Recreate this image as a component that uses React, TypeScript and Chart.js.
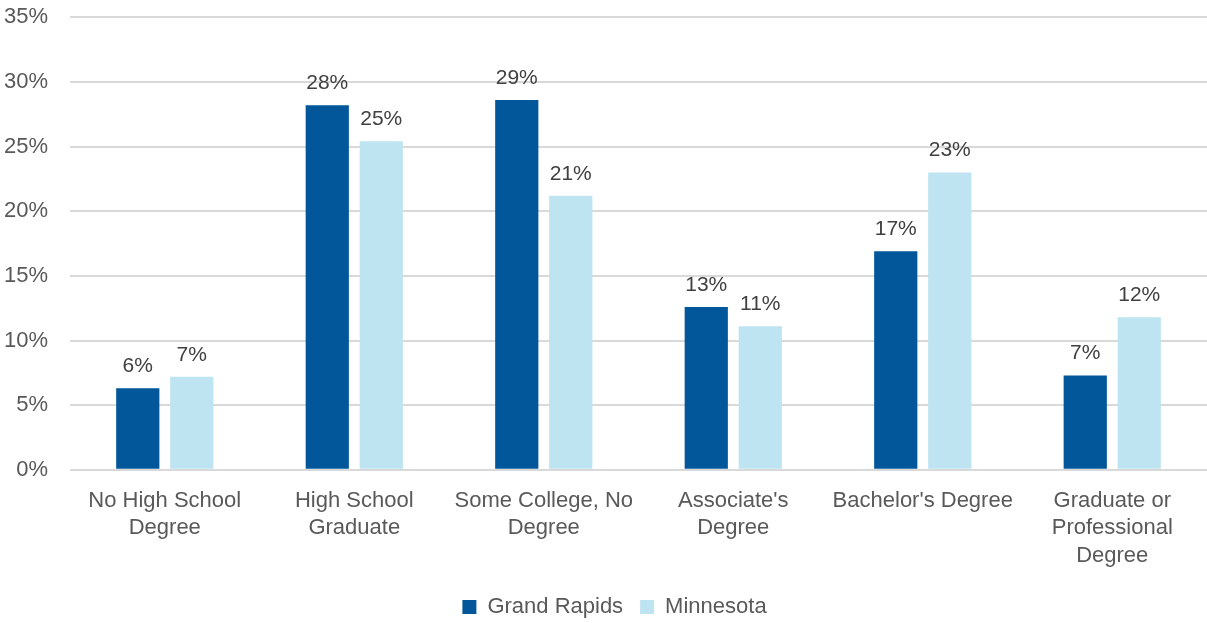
import React, { useEffect, useRef } from "react";
import { Chart, registerables } from "chart.js";

Chart.register(...registerables);

const categories: (string | string[])[] = [
  ["No High School", "Degree"],
  ["High School", "Graduate"],
  ["Some College, No", "Degree"],
  ["Associate's", "Degree"],
  "Bachelor's Degree",
  ["Graduate or", "Professional", "Degree"],
];
const grandRapids = [6.3, 28.2, 28.6, 12.6, 16.9, 7.3];
const minnesota = [7.2, 25.4, 21.2, 11.1, 23.0, 11.8];
const yTicks = [0, 5, 10, 15, 20, 25, 30, 35];

const FONT = "'Liberation Sans', Arial, sans-serif";

const dataLabels = {
  id: "dataLabels",
  afterDatasetsDraw(chart: any) {
    const ctx = chart.ctx;
    ctx.save();
    ctx.font = `21px ${FONT}`;
    ctx.fillStyle = "#404040";
    ctx.textAlign = "center";
    ctx.textBaseline = "alphabetic";
    chart.data.datasets.forEach((ds: any, i: number) => {
      const meta = chart.getDatasetMeta(i);
      meta.data.forEach((bar: any, j: number) => {
        const v = ds.data[j];
        ctx.fillText(`${Math.round(v)}%`, bar.x, bar.y - 16);
      });
    });
    ctx.restore();
  },
};

const legendShift = {
  id: "legendShift",
  afterLayout(chart: any) {
    const lg = chart.legend;
    if (lg) {
      lg.left += 20;
      lg.right += 20;
    }
  },
};

export default function App() {
  const ref = useRef<HTMLCanvasElement>(null);
  useEffect(() => {
    const chart = new Chart(ref.current!, {
      type: "bar",
      data: {
        labels: categories,
        datasets: [
          {
            label: "Grand Rapids",
            data: grandRapids,
            backgroundColor: "#02579A",
            categoryPercentage: 0.57,
            barPercentage: 0.8,
          },
          {
            label: "Minnesota",
            data: minnesota,
            backgroundColor: "#BEE3F1",
            categoryPercentage: 0.57,
            barPercentage: 0.8,
          },
        ],
      },
      options: {
        animation: false,
        responsive: false,
        maintainAspectRatio: false,
        layout: { padding: { top: -10, right: 0, left: -18, bottom: 4 } },
        plugins: {
          tooltip: { enabled: false },
          legend: {
            position: "bottom",
            labels: {
              font: { family: FONT, size: 22 },
              color: "#595959",
              boxWidth: 14,
              boxHeight: 14,
              padding: 17,
            },
          },
        },
        scales: {
          x: {
            grid: { display: false },
            border: { display: false },
            ticks: {
              font: { family: FONT, size: 22, lineHeight: 1.23 },
              color: "#595959",
              maxRotation: 0,
              autoSkip: false,
              padding: 10,
            },
          },
          y: {
            min: 0,
            max: 35,
            afterBuildTicks: (axis: any) => {
              axis.ticks = yTicks.map((v) => ({ value: v }));
            },
            grid: { color: "#D9D9D9", lineWidth: 2, drawTicks: false },
            border: { display: false },
            ticks: {
              font: { family: FONT, size: 22 },
              color: "#595959",
              padding: 22,
              callback: (v: any) => `${v}%`,
            },
          },
        },
      },
      plugins: [dataLabels, legendShift],
    });
    return () => chart.destroy();
  }, []);
  return (
    <div style={{ position: "fixed", left: 0, top: 0, width: 1207, height: 623, overflow: "hidden", background: "#fff" }}>
      <canvas
        ref={ref}
        width={1207}
        height={650}
        style={{ position: "absolute", left: 0, top: -18, width: 1207, height: 650 }}
      />
    </div>
  );
}
